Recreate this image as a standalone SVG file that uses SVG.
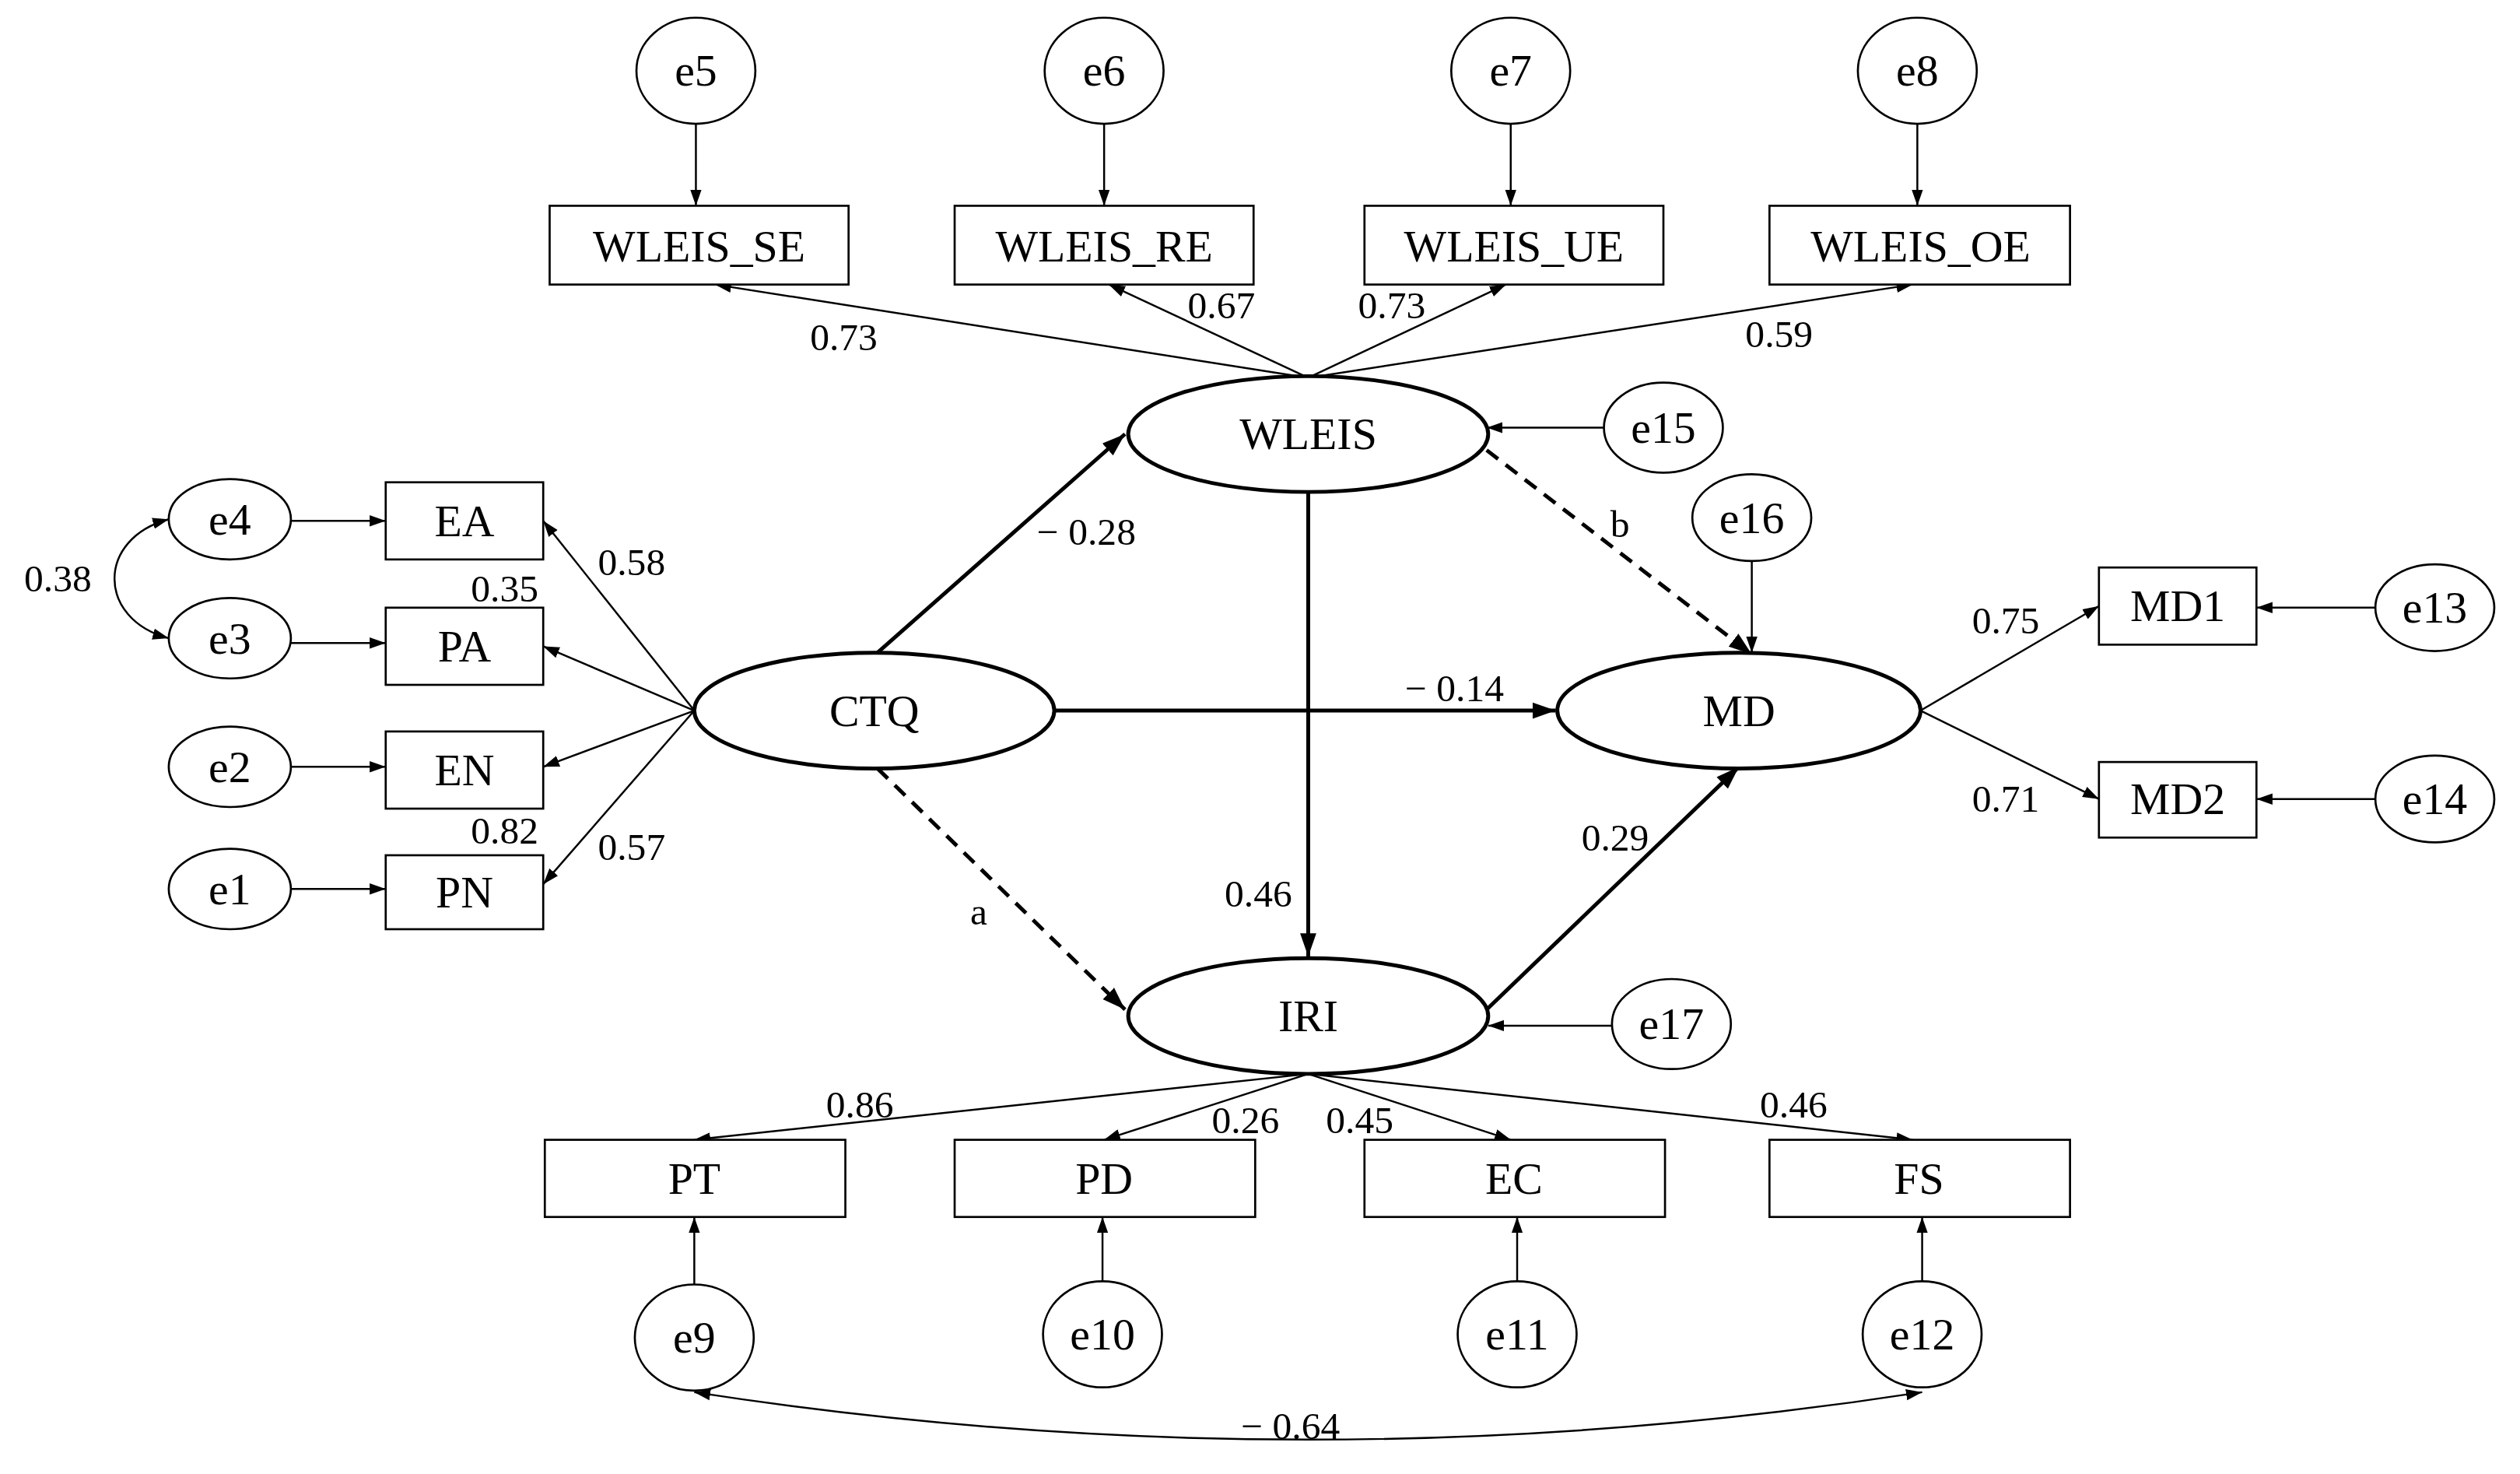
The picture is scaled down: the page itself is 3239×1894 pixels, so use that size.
<svg xmlns="http://www.w3.org/2000/svg" width="3239" height="1894" viewBox="0 0 3239 1894">
<style>
.n{fill:#fff;stroke:#000;stroke-width:1.3}
.L{fill:#fff;stroke:#000;stroke-width:2.4}
.t{font-family:"Liberation Serif",serif;font-size:28px;text-anchor:middle;dominant-baseline:central}
.c{font-family:"Liberation Serif",serif;font-size:24px;text-anchor:middle;dominant-baseline:central}
.a{stroke:#000;stroke-width:1.2;fill:none;marker-end:url(#h)}
.b{stroke:#000;stroke-width:2.4;fill:none;marker-end:url(#H)}
.d{stroke-dasharray:9 6}
</style>
<defs>
<marker id="h" viewBox="0 0 10 10" refX="10" refY="5" markerWidth="10" markerHeight="10" markerUnits="userSpaceOnUse" orient="auto-start-reverse"><path d="M0,1.5L10,5L0,8.5z"/></marker>
<marker id="H" viewBox="0 0 10 10" refX="10" refY="5" markerWidth="6" markerHeight="6" orient="auto"><path d="M0,1.5L10,5L0,8.5z"/></marker>
</defs>
<rect width="3239" height="1894" fill="#fff"/>
<g transform="scale(2.0657)">
<g id="connectors">
<line class="a" x1="433" y1="77" x2="433" y2="128"/>
<line class="a" x1="687" y1="77" x2="687" y2="128"/>
<line class="a" x1="940" y1="77" x2="940" y2="128"/>
<line class="a" x1="1193" y1="77" x2="1193" y2="128"/>
<line class="a" x1="814" y1="235" x2="445" y2="177"/>
<line class="a" x1="814" y1="235" x2="690" y2="177"/>
<line class="a" x1="814" y1="235" x2="937" y2="177"/>
<line class="a" x1="814" y1="235" x2="1190" y2="177"/>
<line class="a" x1="998" y1="266" x2="925" y2="266"/>
<line class="a" x1="181" y1="324" x2="240" y2="324"/>
<line class="a" x1="181" y1="400" x2="240" y2="400"/>
<line class="a" x1="181" y1="477" x2="240" y2="477"/>
<line class="a" x1="181" y1="553" x2="240" y2="553"/>
<path class="a" d="M105,323 C60,335 60,385 105,397" marker-start="url(#h)"/>
<line class="a" x1="432" y1="442" x2="338" y2="324"/>
<line class="a" x1="432" y1="442" x2="338" y2="402"/>
<line class="a" x1="432" y1="442" x2="338" y2="477"/>
<line class="a" x1="432" y1="442" x2="338" y2="550"/>
<line class="b" x1="546" y1="406" x2="700" y2="270"/>
<line class="b" x1="814" y1="306" x2="814" y2="595"/>
<line class="b" x1="656" y1="442" x2="968" y2="442"/>
<line class="b d" x1="925" y1="280" x2="1090" y2="407"/>
<line class="a" x1="1090" y1="349" x2="1090" y2="406"/>
<line class="b d" x1="546" y1="478" x2="700" y2="628"/>
<line class="b" x1="925" y1="628" x2="1082" y2="477"/>
<line class="a" x1="1003" y1="638" x2="926" y2="638"/>
<line class="a" x1="1195" y1="442" x2="1306" y2="377"/>
<line class="a" x1="1195" y1="442" x2="1306" y2="497"/>
<line class="a" x1="1478" y1="378" x2="1404" y2="378"/>
<line class="a" x1="1478" y1="497" x2="1404" y2="497"/>
<line class="a" x1="814" y1="668" x2="432" y2="709"/>
<line class="a" x1="814" y1="668" x2="687" y2="709"/>
<line class="a" x1="814" y1="668" x2="940" y2="709"/>
<line class="a" x1="814" y1="668" x2="1190" y2="709"/>
<line class="a" x1="432" y1="799" x2="432" y2="757"/>
<line class="a" x1="686" y1="797" x2="686" y2="757"/>
<line class="a" x1="944" y1="797" x2="944" y2="757"/>
<line class="a" x1="1196" y1="797" x2="1196" y2="757"/>
<path class="a" d="M432,866 Q814,925 1196,866" marker-start="url(#h)"/>
<text class="c" x="525" y="210">0.73</text>
<text class="c" x="760" y="190">0.67</text>
<text class="c" x="866" y="190">0.73</text>
<text class="c" x="1107" y="208">0.59</text>
<text class="c" x="36" y="360">0.38</text>
<text class="c" x="393" y="350">0.58</text>
<text class="c" x="314" y="366">0.35</text>
<text class="c" x="314" y="517">0.82</text>
<text class="c" x="393" y="527">0.57</text>
<text class="c" x="676" y="331">− 0.28</text>
<text class="c" x="783" y="556">0.46</text>
<text class="c" x="905" y="428">− 0.14</text>
<text class="c" x="1008" y="326">b</text>
<text class="c" x="609" y="567">a</text>
<text class="c" x="1005" y="521">0.29</text>
<text class="c" x="1248" y="386">0.75</text>
<text class="c" x="1248" y="497">0.71</text>
<text class="c" x="535" y="687">0.86</text>
<text class="c" x="775" y="697">0.26</text>
<text class="c" x="846" y="697">0.45</text>
<text class="c" x="1116" y="687">0.46</text>
<text class="c" x="803" y="887">− 0.64</text>
</g>
<g id="e5"><ellipse class="n" cx="433" cy="44" rx="37" ry="33"/><text class="t" x="433" y="44">e5</text></g>
<g id="e6"><ellipse class="n" cx="687" cy="44" rx="37" ry="33"/><text class="t" x="687" y="44">e6</text></g>
<g id="e7"><ellipse class="n" cx="940" cy="44" rx="37" ry="33"/><text class="t" x="940" y="44">e7</text></g>
<g id="e8"><ellipse class="n" cx="1193" cy="44" rx="37" ry="33"/><text class="t" x="1193" y="44">e8</text></g>
<g id="WLEIS_SE"><rect class="n" x="342" y="128" width="186" height="49"/><text class="t" x="435" y="153">WLEIS_SE</text></g>
<g id="WLEIS_RE"><rect class="n" x="594" y="128" width="186" height="49"/><text class="t" x="687" y="153">WLEIS_RE</text></g>
<g id="WLEIS_UE"><rect class="n" x="849" y="128" width="186" height="49"/><text class="t" x="942" y="153">WLEIS_UE</text></g>
<g id="WLEIS_OE"><rect class="n" x="1101" y="128" width="187" height="49"/><text class="t" x="1195" y="153">WLEIS_OE</text></g>
<g id="WLEIS"><ellipse class="L" cx="814" cy="270" rx="112" ry="36"/><text class="t" x="814" y="270">WLEIS</text></g>
<g id="e15"><ellipse class="n" cx="1035" cy="266" rx="37" ry="28"/><text class="t" x="1035" y="266">e15</text></g>
<g id="e4"><ellipse class="n" cx="143" cy="323" rx="38" ry="25"/><text class="t" x="143" y="323">e4</text></g>
<g id="e3"><ellipse class="n" cx="143" cy="397" rx="38" ry="25"/><text class="t" x="143" y="397">e3</text></g>
<g id="e2"><ellipse class="n" cx="143" cy="477" rx="38" ry="25"/><text class="t" x="143" y="477">e2</text></g>
<g id="e1"><ellipse class="n" cx="143" cy="553" rx="38" ry="25"/><text class="t" x="143" y="553">e1</text></g>
<g id="EA"><rect class="n" x="240" y="300" width="98" height="48"/><text class="t" x="289" y="324">EA</text></g>
<g id="PA"><rect class="n" x="240" y="378" width="98" height="48"/><text class="t" x="289" y="402">PA</text></g>
<g id="EN"><rect class="n" x="240" y="455" width="98" height="48"/><text class="t" x="289" y="479">EN</text></g>
<g id="PN"><rect class="n" x="240" y="532" width="98" height="46"/><text class="t" x="289" y="555">PN</text></g>
<g id="CTQ"><ellipse class="L" cx="544" cy="442" rx="112" ry="36"/><text class="t" x="544" y="442">CTQ</text></g>
<g id="MD"><ellipse class="L" cx="1082" cy="442" rx="113" ry="36"/><text class="t" x="1082" y="442">MD</text></g>
<g id="e16"><ellipse class="n" cx="1090" cy="322" rx="37" ry="27"/><text class="t" x="1090" y="322">e16</text></g>
<g id="IRI"><ellipse class="L" cx="814" cy="632" rx="112" ry="36"/><text class="t" x="814" y="632">IRI</text></g>
<g id="e17"><ellipse class="n" cx="1040" cy="637" rx="37" ry="28"/><text class="t" x="1040" y="637">e17</text></g>
<g id="MD1"><rect class="n" x="1306" y="353" width="98" height="48"/><text class="t" x="1355" y="377">MD1</text></g>
<g id="MD2"><rect class="n" x="1306" y="474" width="98" height="47"/><text class="t" x="1355" y="497">MD2</text></g>
<g id="e13"><ellipse class="n" cx="1515" cy="378" rx="37" ry="27"/><text class="t" x="1515" y="378">e13</text></g>
<g id="e14"><ellipse class="n" cx="1515" cy="497" rx="37" ry="27"/><text class="t" x="1515" y="497">e14</text></g>
<g id="PT"><rect class="n" x="339" y="709" width="187" height="48"/><text class="t" x="432" y="733">PT</text></g>
<g id="PD"><rect class="n" x="594" y="709" width="187" height="48"/><text class="t" x="687" y="733">PD</text></g>
<g id="EC"><rect class="n" x="849" y="709" width="187" height="48"/><text class="t" x="942" y="733">EC</text></g>
<g id="FS"><rect class="n" x="1101" y="709" width="187" height="48"/><text class="t" x="1194" y="733">FS</text></g>
<g id="e9"><ellipse class="n" cx="432" cy="832" rx="37" ry="33"/><text class="t" x="432" y="832">e9</text></g>
<g id="e10"><ellipse class="n" cx="686" cy="830" rx="37" ry="33"/><text class="t" x="686" y="830">e10</text></g>
<g id="e11"><ellipse class="n" cx="944" cy="830" rx="37" ry="33"/><text class="t" x="944" y="830">e11</text></g>
<g id="e12"><ellipse class="n" cx="1196" cy="830" rx="37" ry="33"/><text class="t" x="1196" y="830">e12</text></g>
</g>
</svg>
